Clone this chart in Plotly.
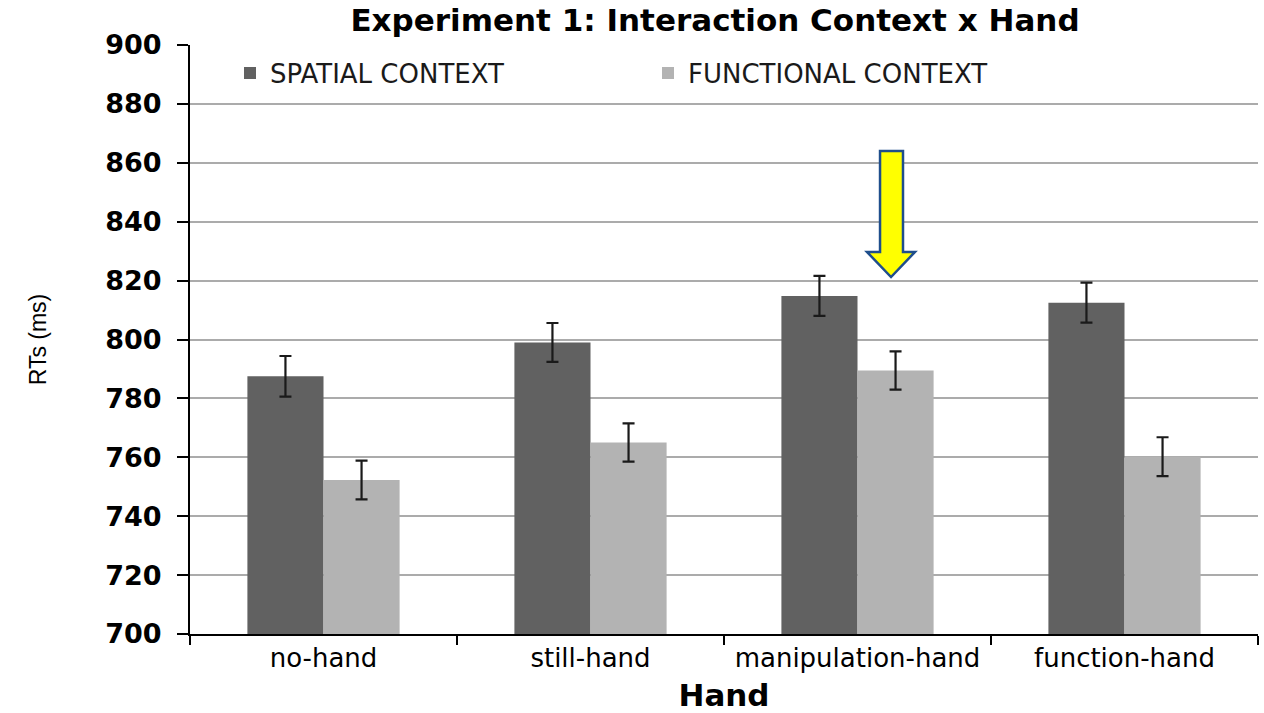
import plotly.graph_objects as go

categories = ["no-hand", "still-hand", "manipulation-hand", "function-hand"]
spatial = [787.5, 799.0, 814.8, 812.5]
spatial_err = [6.9, 6.6, 6.8, 6.8]
functional = [752.3, 765.0, 789.5, 760.2]
functional_err = [6.6, 6.5, 6.5, 6.6]
y_ticks = [700, 720, 740, 760, 780, 800, 820, 840, 860, 880, 900]

W, H = 1264, 713
L, R, T, B = 190, 6, 45, 79

fig = go.Figure()
fig.add_trace(go.Bar(
    name="SPATIAL CONTEXT", x=categories, y=spatial,
    marker=dict(color="#616161", line=dict(width=0)),
    error_y=dict(type="data", array=spatial_err, color="#1a1a1a", thickness=2.2, width=6),
))
fig.add_trace(go.Bar(
    name="FUNCTIONAL CONTEXT", x=categories, y=functional,
    marker=dict(color="#b3b3b3", line=dict(width=0)),
    error_y=dict(type="data", array=functional_err, color="#1a1a1a", thickness=2.2, width=6),
))

pw = W - L - R
ph = H - T - B
def px(x):
    return (x - L) / pw
def py(y):
    return (H - B - y) / ph

# yellow arrow annotation shape
pts = [(880, 151), (903, 151), (903, 252), (915, 252), (891, 277), (867, 252), (880, 252)]
path = "M " + " L ".join(f"{px(a):.4f},{py(b):.4f}" for a, b in pts) + " Z"
fig.add_shape(type="path", xref="paper", yref="paper", path=path,
              fillcolor="#ffff00", line=dict(color="#1f4e8c", width=2.5), layer="above")

fig.update_layout(
    width=W, height=H,
    margin=dict(l=L, r=R, t=T, b=B, autoexpand=False),
    paper_bgcolor="white", plot_bgcolor="white",
    barmode="group", bargap=0.43, bargroupgap=0.0,
    title=dict(text="<b>Experiment 1: Interaction Context x Hand</b>",
               x=715 / W, xref="container", xanchor="center",
               y=1 - 20 / H, yref="container", yanchor="middle",
               font=dict(family="DejaVu Sans", size=31, color="black")),
    legend=dict(orientation="h", x=px(230), xanchor="left", y=py(73), yanchor="middle",
                font=dict(family="DejaVu Sans", size=26, color="#1a1a1a"),
                entrywidth=373, entrywidthmode="pixels", bgcolor="rgba(0,0,0,0)",
                traceorder="normal"),
    showlegend=True,
    font=dict(family="DejaVu Sans", color="black"),
)
fig.update_xaxes(
    type="category", range=[-0.5, 3.5],
    showline=True, linecolor="black", linewidth=2,
    ticks="outside", tickson="boundaries", ticklen=9, tickwidth=2, tickcolor="black",
    tickfont=dict(family="DejaVu Sans", size=26, color="black"),
    showgrid=False,
    title=dict(text="<b>Hand</b>", font=dict(family="DejaVu Sans", size=31, color="black"), standoff=15),
)
fig.update_yaxes(
    range=[700, 900], tickvals=y_ticks,
    showline=True, linecolor="black", linewidth=2,
    ticks="outside", ticklen=11, tickwidth=1.5, tickcolor="black",
    tickfont=dict(family="DejaVu Sans", size=27, color="black", weight="bold"),
    ticklabelstandoff=10,
    showgrid=True, gridcolor="#ababab", gridwidth=1.5,
    zeroline=False,
    title=dict(text="RTs (ms)", font=dict(family="Liberation Sans Narrow, Liberation Sans", size=23, color="black"), standoff=52),
)

fig.write_html("out.html", config={"displayModeBar": False},
               post_script="document.body.style.margin='0';document.body.style.padding='0';document.body.style.overflow='hidden';")
